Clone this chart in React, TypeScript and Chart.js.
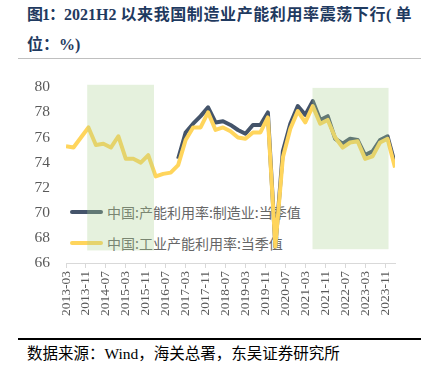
import React, { useEffect, useRef } from "react";
import { Chart, registerables } from "chart.js";
Chart.register(...registerables);

const quarters = [
  "2013-03", "2013-06", "2013-09", "2013-12",
  "2014-03", "2014-06", "2014-09", "2014-12",
  "2015-03", "2015-06", "2015-09", "2015-12",
  "2016-03", "2016-06", "2016-09", "2016-12",
  "2017-03", "2017-06", "2017-09", "2017-12",
  "2018-03", "2018-06", "2018-09", "2018-12",
  "2019-03", "2019-06", "2019-09", "2019-12",
  "2020-03", "2020-06", "2020-09", "2020-12",
  "2021-03", "2021-06", "2021-09", "2021-12",
  "2022-03", "2022-06", "2022-09", "2022-12",
  "2023-03", "2023-06", "2023-09", "2023-12",
  "2024-03",
];

const industrial = [
  75.3, 75.2, 76.0, 76.8,
  75.4, 75.5, 75.2, 76.1,
  74.3, 74.3, 74.0, 74.6,
  72.9, 73.1, 73.2, 73.8,
  75.8, 76.8, 76.8, 78.0,
  76.6, 76.8, 76.5, 76.0,
  75.9, 76.4, 76.4, 77.6,
  67.3, 74.4, 76.7, 78.1,
  77.2, 78.5, 77.1, 77.4,
  76.0, 75.2, 75.6, 75.7,
  74.3, 74.5, 75.6, 75.9,
  73.6,
];

const manufacturing = [
  null, null, null, null,
  null, null, null, null,
  null, null, null, null,
  null, null, null, 74.3,
  76.4, 77.1, 77.7, 78.4,
  77.2, 77.3, 77.0, 76.6,
  76.3, 77.0, 77.0, 78.0,
  67.3, 74.9, 77.1, 78.5,
  77.8, 78.9, 77.4, 77.7,
  75.9, 75.5, 75.9, 75.8,
  74.6, 74.9, 75.8, 76.1,
  73.9,
];

const seriesNames = ["中国:产能利用率:制造业:当季值", "中国:工业产能利用率:当季值"];
const seriesColors = ["#44546a", "#ffd55c"];

const axisStart = "2013-03";
const axisEnd = "2024-03";
const tickStepMonths = 8;
const yMin = 66;
const yMax = 80;
const yStep = 2;

// shaded periods (month offset from axisStart, value range)
const shadeFrom = [8.5, 98.9];
const shadeTo = [35.3, 129.4];
const shadeTop = [80.2, 79.95];
const shadeBottom = [67.0, 67.1];

const titlePrefix = "图1：";
const titleNum = "2021H2 ";
const titleCn = "以来我国制造业产能利用率震荡下行";
const titleEnd1 = "( 单";
const title2 = "位：%)";
const source = "数据来源：Wind，海关总署，东吴证券研究所";

function monthIndex(s: string): number {
  const [y, m] = s.split("-").map(Number);
  const [y0, m0] = axisStart.split("-").map(Number);
  return (y - y0) * 12 + (m - m0);
}
function monthLabel(idx: number): string {
  const [y0, m0] = axisStart.split("-").map(Number);
  const t = y0 * 12 + (m0 - 1) + Math.round(idx);
  const y = Math.floor(t / 12);
  const m = (t % 12) + 1;
  return `${y}-${m < 10 ? "0" + m : m}`;
}

const shadePlugin = {
  id: "shade",
  afterDatasetsDraw(chart: any) {
    const { ctx, scales } = chart;
    const xs = scales.x;
    const ys = scales.y;
    ctx.save();
    ctx.fillStyle = "rgba(169,208,142,0.3)";
    for (let i = 0; i < shadeFrom.length; i++) {
      const x0 = xs.getPixelForValue(shadeFrom[i]);
      const x1 = xs.getPixelForValue(shadeTo[i]);
      const y0 = ys.getPixelForValue(shadeTop[i]);
      const y1 = ys.getPixelForValue(shadeBottom[i]);
      ctx.fillRect(x0, y0, x1 - x0, y1 - y0);
    }
    ctx.restore();
  },
};

export default function App() {
  const ref = useRef<HTMLCanvasElement | null>(null);

  useEffect(() => {
    if (!ref.current) return;
    const xs = quarters.map(monthIndex);
    const chart = new Chart(ref.current, {
      type: "line",
      data: {
        datasets: [
          {
            label: seriesNames[0],
            data: xs.map((x, i) => ({ x, y: manufacturing[i] })) as any,
            borderColor: seriesColors[0],
            backgroundColor: seriesColors[0],
            borderWidth: 4,
            pointRadius: 0,
            borderJoinStyle: "round",
            spanGaps: false,
            order: 1,
          },
          {
            label: seriesNames[1],
            data: xs.map((x, i) => ({ x, y: industrial[i] })) as any,
            borderColor: seriesColors[1],
            backgroundColor: seriesColors[1],
            borderWidth: 4,
            pointRadius: 0,
            borderJoinStyle: "round",
            order: 0,
          },
        ],
      },
      options: {
        animation: false,
        responsive: false,
        maintainAspectRatio: false,
        layout: { padding: { top: 23, right: 35, left: 0, bottom: 0 } },
        plugins: { legend: { display: false }, tooltip: { enabled: false } },
        scales: {
          x: {
            type: "linear",
            min: 0,
            max: monthIndex(axisEnd),
            afterFit: (s: any) => {
              s.height = 75;
            },
            grid: {
              display: true,
              drawOnChartArea: false,
              drawTicks: true,
              tickLength: 5,
              color: "#d9d9d9",
            },
            border: { display: true, color: "#d9d9d9" },
            ticks: {
              stepSize: tickStepMonths,
              includeBounds: false,
              autoSkip: false,
              maxRotation: 90,
              minRotation: 90,
              padding: 3,
              color: "#595959",
              font: { family: '"Liberation Serif", "Times New Roman", serif', size: 13.5 },
              callback: (v: any) => monthLabel(Number(v)),
            },
          },
          y: {
            min: yMin,
            max: yMax,
            afterFit: (s: any) => {
              s.width = 66;
            },
            grid: { display: false, drawTicks: false },
            border: { display: false },
            ticks: {
              stepSize: yStep,
              padding: 16,
              color: "#595959",
              font: { family: '"Liberation Serif", "Times New Roman", serif', size: 15.5 },
            },
          },
        },
      } as any,
      plugins: [shadePlugin],
    });
    return () => chart.destroy();
  }, []);

  const legendFont = '"Noto Sans CJK SC", sans-serif';
  return (
    <div
      style={{
        position: "absolute",
        left: 0,
        top: 0,
        width: 430,
        height: 380,
        background: "#fff",
        overflow: "hidden",
      }}
    >
      <div
        style={{
          position: "absolute",
          left: 27,
          top: 0,
          fontFamily: '"Liberation Serif", "Noto Sans CJK SC", serif',
          fontWeight: "bold",
          fontSize: 16,
          lineHeight: "30px",
          color: "#1f3a60",
          whiteSpace: "nowrap",
        }}
      >
        <div>
          <span style={{ letterSpacing: -1 }}>{titlePrefix}</span>
          <span>{titleNum}</span>
          <span style={{ letterSpacing: 0.6 }}>{titleCn}</span>
          <span>{titleEnd1}</span>
        </div>
        <div>{title2}</div>
      </div>
      <div
        style={{
          position: "absolute",
          left: 18,
          top: 58,
          width: 403,
          height: 1,
          background: "#bfbfbf",
        }}
      />
      {/* legend, drawn under the canvas so the shaded box tints it */}
      {seriesNames.map((name, i) => (
        <div
          key={name}
          style={{
            position: "absolute",
            left: 70,
            top: 203 + i * 31,
            height: 18,
            display: "flex",
            alignItems: "center",
            zIndex: 0,
          }}
        >
          <div
            style={{
              width: 33,
              height: 4,
              borderRadius: 2,
              background: seriesColors[i],
              marginRight: 4,
            }}
          />
          <span
            style={{
              fontFamily: legendFont,
              fontSize: 14,
              color: "#666666",
              lineHeight: "18px",
              whiteSpace: "nowrap",
            }}
          >
            {name}
          </span>
        </div>
      ))}
      <canvas
        ref={ref}
        width={430}
        height={276}
        style={{ position: "absolute", left: 0, top: 62, width: 430, height: 276, zIndex: 1 }}
      />
      <div
        style={{
          position: "absolute",
          left: 18,
          top: 338,
          width: 403,
          height: 2,
          background: "#000",
        }}
      />
      <div
        style={{
          position: "absolute",
          left: 27,
          top: 344,
          fontFamily: '"Liberation Serif", "Noto Sans CJK SC", serif',
          fontSize: 15.5,
          lineHeight: "20px",
          color: "#000",
          whiteSpace: "nowrap",
        }}
      >
        {source}
      </div>
    </div>
  );
}
